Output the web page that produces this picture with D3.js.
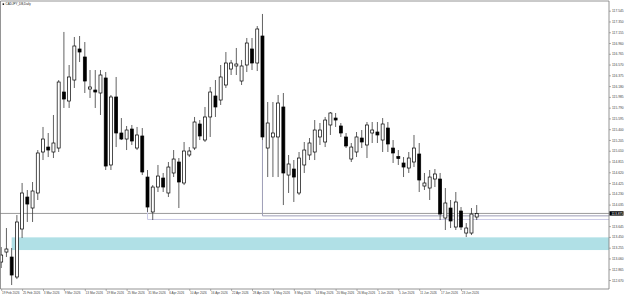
<!DOCTYPE html>
<html>
<head>
<meta charset="utf-8">
<script src="https://cdnjs.cloudflare.com/ajax/libs/d3/7.8.5/d3.min.js"></script>
<style>
body{margin:0;background:#fff;}
svg{display:block;font-family:"Liberation Sans",Arial,sans-serif;}
</style>
</head>
<body>
<div id="chart"></div>
<script>
// daily bars, 19 Feb 2026 -> 26 Jun 2026
var opens = [112.995,113.176,113.086,112.724,113.593,114.172,113.973,114.245,114.987,115.077,
114.987,115.059,116.073,115.910,116.290,116.852,116.707,116.127,116.109,116.055,
116.327,114.752,115.983,115.331,115.222,115.403,115.059,115.277,114.534,113.901,
114.353,114.516,114.245,114.607,114.806,114.426,114.933,115.059,115.494,115.204,
115.621,116.001,115.928,116.200,116.489,116.544,116.272,116.562,116.852,116.598,
117.087,115.059,115.259,115.259,115.802,114.570,114.679,114.245,114.752,114.933,
114.987,115.259,115.168,115.476,115.602,115.458,115.259,114.860,114.987,115.240,
115.114,115.331,115.349,115.204,115.421,115.059,114.905,114.788,114.697,114.806,
114.951,114.371,114.335,114.498,114.498,113.792,113.973,113.629,113.919,113.520,
113.520,113.810];
var highs = [113.267,113.611,113.249,113.846,114.426,114.299,114.444,115.023,115.440,115.331,
115.657,116.290,117.160,116.562,117.069,117.087,116.978,116.471,116.471,116.471,
116.435,116.019,116.345,115.602,115.458,115.476,115.440,115.421,114.661,114.389,
114.752,114.607,114.806,115.023,114.878,115.168,115.077,115.621,115.566,115.802,
116.164,116.290,116.562,116.797,116.653,116.870,116.653,117.051,117.051,117.268,
117.486,115.892,115.892,116.019,116.055,114.933,114.842,114.987,115.168,115.240,
115.566,115.512,115.621,115.711,115.693,115.512,115.331,115.150,115.349,115.385,
115.530,115.530,115.530,115.602,115.530,115.204,115.023,114.896,114.987,115.295,
115.150,114.607,114.661,114.679,114.607,114.335,114.118,114.263,113.991,113.701,
113.973,114.027];
var lows = [112.887,113.086,112.579,112.687,113.430,113.720,113.720,114.118,114.842,114.896,
114.878,114.987,115.784,115.784,116.146,116.616,116.055,115.965,115.784,115.657,
114.661,114.661,115.077,115.204,115.023,115.114,115.023,114.570,113.901,113.756,
114.263,114.263,114.172,114.534,113.973,114.389,114.896,115.023,115.204,115.168,
115.259,115.621,115.838,116.146,116.381,116.381,116.200,116.435,116.471,116.453,
115.204,114.534,114.534,114.534,114.027,114.245,114.082,114.208,114.607,114.842,
114.842,115.114,115.077,115.295,115.440,115.259,115.059,114.806,114.896,115.059,
114.878,115.150,115.150,114.987,114.987,114.788,114.752,114.534,114.607,114.715,
114.263,114.299,114.118,114.353,113.756,113.575,113.611,113.575,113.575,113.448,
113.484,113.756];
var closes = [113.122,113.231,112.760,113.720,114.245,114.045,114.281,114.969,115.222,115.023,
115.150,116.254,115.946,116.345,116.906,116.797,116.272,116.164,116.073,116.381,
114.733,115.983,115.331,115.222,115.385,115.186,115.295,114.625,113.991,114.353,
114.552,114.353,114.715,114.860,114.444,115.005,115.005,115.530,115.277,115.621,
116.073,115.802,116.345,116.598,116.598,116.580,116.544,116.960,116.598,117.214,
115.259,115.512,115.331,115.874,114.607,114.770,114.534,114.878,115.023,115.150,
115.385,115.385,115.566,115.693,115.566,115.331,115.096,115.077,115.259,115.168,
115.476,115.385,115.295,115.494,115.132,114.969,114.869,114.715,114.878,115.059,
114.480,114.426,114.534,114.589,113.864,114.064,113.738,114.082,113.629,113.611,
113.864,113.875];

var dateLabels = ["19 Feb 2026","25 Feb 2026","3 Mar 2026","9 Mar 2026","13 Mar 2026","19 Mar 2026",
"25 Mar 2026","31 Mar 2026","6 Apr 2026","10 Apr 2026","16 Apr 2026","22 Apr 2026","28 Apr 2026",
"4 May 2026","8 May 2026","14 May 2026","20 May 2026","26 May 2026","1 Jun 2026","5 Jun 2026",
"11 Jun 2026","17 Jun 2026","23 Jun 2026"];
var priceTicks = [117.545,117.350,117.155,116.960,116.765,116.570,116.375,116.180,115.985,115.790,
115.595,115.400,115.205,115.010,114.815,114.620,114.425,114.230,114.035,113.840,
113.645,113.450,113.255,113.060,112.865,112.670];

// drawn objects
var zoneBounds = [113.212, 113.442];
var zoneStartBar = 2;
var levelPrices = [113.831, 113.766];
var levelBars = [50, 28];
var levelColors = ["#9d9db6", "#c9c9e6"];

var W = 625, H = 298;
var plotRight = 609, plotBottom = 289, plotTop = 1;

var svg = d3.select("#chart").append("svg")
    .attr("width", W)
    .attr("height", H);

var x = d3.scaleLinear().domain([0, 91]).range([1.2, 476.7]);
var y = d3.scaleLinear().domain([112.670, 117.545]).range([280, 10.7]);

var bars = d3.range(closes.length).map(function(i) {
  return {i: i, o: opens[i], h: highs[i], l: lows[i], c: closes[i]};
});

svg.append("clipPath").attr("id", "plotclip")
  .append("rect").attr("x", 0).attr("y", plotTop).attr("width", plotRight).attr("height", plotBottom - plotTop);

var plot = svg.append("g").attr("clip-path", "url(#plotclip)");

// support zone
plot.append("rect")
  .attr("x", x(zoneStartBar))
  .attr("y", y(zoneBounds[1]))
  .attr("width", plotRight - x(zoneStartBar))
  .attr("height", y(zoneBounds[0]) - y(zoneBounds[1]))
  .attr("fill", "#b0e0e6");

// bid line
var last = closes[closes.length - 1];
plot.append("line")
  .attr("x1", 0).attr("x2", plotRight)
  .attr("y1", y(last)).attr("y2", y(last))
  .attr("stroke", "#808080").attr("stroke-width", 0.8);

// horizontal levels with a drop from the bar
levelPrices.forEach(function(p, k) {
  var b = levelBars[k];
  plot.append("path")
    .attr("d", "M" + x(b) + "," + y(lows[b]) + "V" + y(p) + "H" + plotRight)
    .attr("fill", "none")
    .attr("stroke", levelColors[k])
    .attr("stroke-width", 1);
});

// wicks
plot.selectAll(".wick").data(bars).enter().append("line")
  .attr("class", "wick")
  .attr("x1", function(d) { return x(d.i); })
  .attr("x2", function(d) { return x(d.i); })
  .attr("y1", function(d) { return y(d.h); })
  .attr("y2", function(d) { return y(d.l); })
  .attr("stroke", "#3a3a3a")
  .attr("stroke-width", 0.8);

// bodies
var bw = 3;
plot.selectAll(".body").data(bars).enter().append("rect")
  .attr("class", "body")
  .attr("x", function(d) { return x(d.i) - bw / 2; })
  .attr("y", function(d) { return y(Math.max(d.o, d.c)); })
  .attr("width", bw)
  .attr("height", function(d) { return Math.max(0.8, Math.abs(y(d.o) - y(d.c))); })
  .attr("fill", function(d) { return d.c >= d.o ? "#fff" : "#000"; })
  .attr("stroke", "#000")
  .attr("stroke-width", 0.7);

// frame
svg.append("path")
  .attr("d", "M0.5," + plotBottom + "V" + plotTop + "H" + plotRight + "V" + plotBottom + "H0.5")
  .attr("fill", "none")
  .attr("stroke", "#7a7a7a")
  .attr("stroke-width", 0.8);

var last = closes[closes.length - 1];

// price axis (the label under the price tag is skipped)
var shownTicks = priceTicks.filter(function(p) { return Math.abs(y(p) - y(last)) > 4.5; });
var yAxis = svg.append("g")
  .attr("transform", "translate(" + plotRight + ",0)")
  .call(d3.axisRight(y).tickValues(shownTicks).tickSize(2).tickPadding(1).tickFormat(d3.format(".3f")));
yAxis.select(".domain").remove();
yAxis.selectAll("line").attr("stroke", "#7a7a7a").attr("stroke-width", 0.6);
yAxis.selectAll("text").attr("font-size", "3.3px").attr("fill", "#444").attr("font-family", "Liberation Sans, Arial, sans-serif");

// date axis
var labelBars = dateLabels.map(function(d, k) { return k * 4; });
var xAxis = svg.append("g")
  .attr("transform", "translate(0," + plotBottom + ")")
  .call(d3.axisBottom(x).tickValues(labelBars).tickSize(2).tickPadding(1.2)
    .tickFormat(function(d, k) { return dateLabels[k]; }));
xAxis.select(".domain").remove();
xAxis.selectAll("line").attr("stroke", "#7a7a7a").attr("stroke-width", 0.6);
xAxis.selectAll("text")
  .attr("text-anchor", "start")
  .attr("dx", "0.3")
  .attr("font-size", "3.1px").attr("fill", "#444")
  .attr("font-family", "Liberation Sans, Arial, sans-serif");

// current price tag
svg.append("rect")
  .attr("x", plotRight + 0.5).attr("y", y(last) - 2.2)
  .attr("width", 14).attr("height", 4.4)
  .attr("fill", "#000");
svg.append("text")
  .attr("x", plotRight + 2.5).attr("y", y(last))
  .attr("dy", "0.35em")
  .attr("font-size", "3.3px").attr("fill", "#fff")
  .text(d3.format(".3f")(last));

// title
svg.append("rect").attr("x", 2.6).attr("y", 3.4).attr("width", 1.5).attr("height", 1.5).attr("fill", "#000");
svg.append("text")
  .attr("x", 5.6).attr("y", 5.3)
  .attr("font-size", "3px").attr("fill", "#222")
  .text("CADJPY_DB,Daily");
</script>
</body>
</html>
